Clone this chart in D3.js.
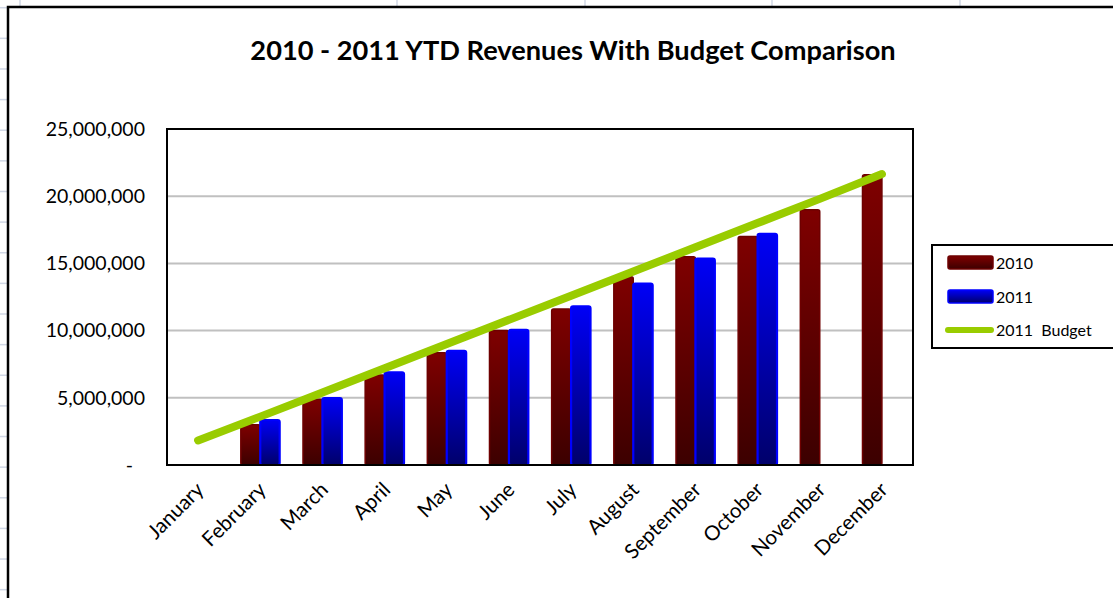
<!DOCTYPE html>
<html>
<head>
<meta charset="utf-8">
<script src="https://cdn.jsdelivr.net/npm/d3@7"></script>
<style>
  body { margin: 0; background: #fff; }
  svg { display: block; font-family: Lato, "Open Sans", sans-serif; }
</style>
</head>
<body>
<svg id="chart" width="1113" height="598"></svg>
<script>
// data (values in dollars)
const months = ["January", "February", "March", "April", "May", "June",
  "July", "August", "September", "October", "November", "December"];
const rev2010 = [null, 3000000, 4900000, 6700000, 8350000, 10000000,
  11600000, 14000000, 15500000, 17000000, 19000000, 21600000];
const rev2011 = [null, 3350000, 4980000, 6900000, 8500000, 10050000,
  11800000, 13500000, 15350000, 17200000, null, null];
const budget2011 = [1830000, 3600000, 5400000, 7200000, 9000000, 10800000,
  12600000, 14400000, 16200000, 18000000, 19800000, 21650000];
const yTicks = [0, 5000000, 10000000, 15000000, 20000000, 25000000];
const seriesNames = ["2010", "2011"];

const svg = d3.select('#chart');

// spreadsheet grid behind the chart object
let gridCols = [20, 397, 585, 772, 960];
gridCols.forEach(x => {
  svg.append('line').attr('x1', x).attr('x2', x).attr('y1', 0).attr('y2', 8)
    .attr('stroke', '#d0d7e5').attr('stroke-width', 1.5);
});
for (let y = 7.7; y < 598; y += 30.63) {
  svg.append('line').attr('x1', 0).attr('x2', 8).attr('y1', y).attr('y2', y)
    .attr('stroke', '#d0d7e5').attr('stroke-width', 1.5);
}

// chart area
svg.append('rect')
  .attr('x', 8).attr('y', 7).attr('width', 1200).attr('height', 700)
  .attr('fill', '#fff').attr('stroke', '#000').attr('stroke-width', 2.5);

// gradients
let defs = svg.append('defs');
function grad(id, top, bottom) {
  let g = defs.append('linearGradient').attr('id', id)
    .attr('x1', 0).attr('y1', 0).attr('x2', 0).attr('y2', 1);
  g.append('stop').attr('offset', '0%').attr('stop-color', top);
  g.append('stop').attr('offset', '100%').attr('stop-color', bottom);
}
grad('g2010', '#7f0000', '#3c0000');
grad('g2011', '#0000f6', '#00006a');

const plot = { left: 167, right: 913, top: 129, bottom: 465 };

let x = d3.scaleBand().domain(months).range([plot.left, plot.right]);
let xs = d3.scaleBand().domain(seriesNames).range([0, x.bandwidth()]).paddingOuter(0.6);
let y = d3.scaleLinear().domain([0, 25000000]).range([plot.bottom, plot.top]);

// horizontal gridlines
svg.append('g')
  .selectAll('line')
  .data(yTicks.filter(d => d > 0 && d < 25000000))
  .enter()
  .append('line')
  .attr('x1', plot.left).attr('x2', plot.right)
  .attr('y1', d => y(d)).attr('y2', d => y(d))
  .attr('stroke', '#c0c0c0').attr('stroke-width', 2);

// y axis labels
let fmt = d3.format(',');
svg.append('g')
  .selectAll('text')
  .data(yTicks)
  .enter()
  .append('text')
  .attr('x', d => d === 0 ? 133 : 145)
  .attr('y', d => y(d))
  .attr('dy', '0.35em')
  .attr('text-anchor', 'end')
  .attr('font-size', 19.5)
  .attr('fill', '#000')
  .text(d => d === 0 ? '-' : fmt(d));

// bars
let colors = { "2010": { fill: 'url(#g2010)', stroke: '#6e0000' },
               "2011": { fill: 'url(#g2011)', stroke: '#0000ff' } };
let barData = [];
months.forEach((m, i) => {
  if (rev2010[i] !== null) barData.push({ month: m, series: "2010", value: rev2010[i] });
  if (rev2011[i] !== null) barData.push({ month: m, series: "2011", value: rev2011[i] });
});

svg.append('g')
  .selectAll('rect')
  .data(barData)
  .enter()
  .append('rect')
  .attr('x', d => x(d.month) + xs(d.series))
  .attr('y', d => y(d.value))
  .attr('width', xs.bandwidth())
  .attr('height', d => y(0) - y(d.value))
  .attr('rx', 2)
  .attr('fill', d => colors[d.series].fill)
  .attr('stroke', d => colors[d.series].stroke)
  .attr('stroke-width', d => d.series === "2011" ? 2.2 : 1.5);

// plot border
svg.append('rect')
  .attr('x', plot.left).attr('y', plot.top)
  .attr('width', plot.right - plot.left).attr('height', plot.bottom - plot.top)
  .attr('fill', 'none').attr('stroke', '#000').attr('stroke-width', 2);

// budget line
let line = d3.line()
  .x((d, i) => x(months[i]) + x.bandwidth() / 2)
  .y(d => y(d));
svg.append('path')
  .attr('d', line(budget2011))
  .attr('fill', 'none')
  .attr('stroke', '#99cc00')
  .attr('stroke-width', 8)
  .attr('stroke-linecap', 'round')
  .attr('stroke-linejoin', 'round');

// x labels
svg.append('g')
  .selectAll('text')
  .data(months)
  .enter()
  .append('text')
  .attr('transform', d => `translate(${x(d) + x.bandwidth() / 2 + 7},${plot.bottom + 26}) rotate(-45)`)
  .attr('text-anchor', 'end')
  .attr('font-size', 20.5)
  .attr('fill', '#000')
  .text(d => d);

// title
svg.append('text')
  .attr('x', 573).attr('y', 60)
  .attr('text-anchor', 'middle')
  .attr('font-size', 27.2)
  .attr('font-weight', 'bold')
  .attr('fill', '#000')
  .text('2010 - 2011 YTD Revenues With Budget Comparison');

// legend
let legend = svg.append('g');
legend.append('rect')
  .attr('x', 932).attr('y', 245).attr('width', 300).attr('height', 103)
  .attr('fill', '#fff').attr('stroke', '#000').attr('stroke-width', 2);

seriesNames.forEach((s, i) => {
  let ly = 256 + i * 34;
  legend.append('rect')
    .attr('x', 948).attr('y', ly).attr('width', 45).attr('height', 13)
    .attr('rx', 2)
    .attr('fill', colors[s].fill).attr('stroke', colors[s].stroke).attr('stroke-width', 1.5);
  legend.append('text')
    .attr('x', 996).attr('y', ly + 7).attr('dy', '0.35em')
    .attr('font-size', 16).text(s);
});
legend.append('line')
  .attr('x1', 948).attr('x2', 991).attr('y1', 330).attr('y2', 330)
  .attr('stroke', '#99cc00').attr('stroke-width', 6).attr('stroke-linecap', 'round');
legend.append('text')
  .attr('x', 996).attr('y', 330).attr('dy', '0.35em')
  .attr('font-size', 16)
  .attr('xml:space', 'preserve')
  .style('white-space', 'pre')
  .text('2011  Budget');
</script>
</body>
</html>
